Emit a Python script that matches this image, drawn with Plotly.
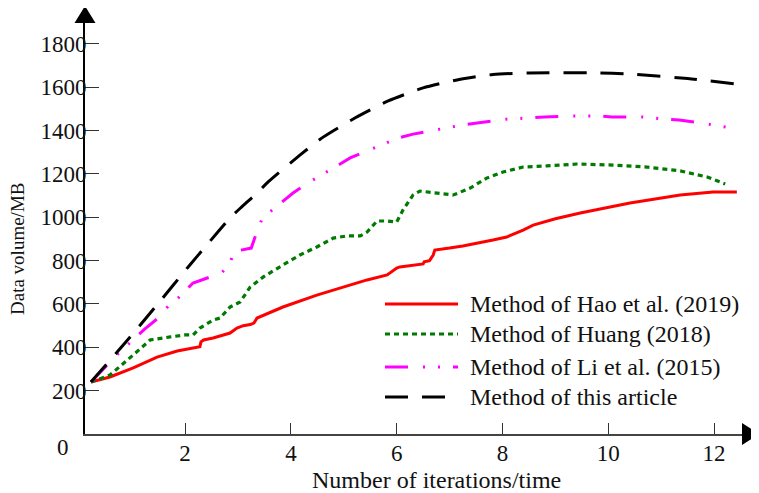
import plotly.graph_objects as go

# ---------------- data ----------------
series_names = ["Method of Hao et al. (2019)", "Method of Huang (2018)",
                "Method of Li et al. (2015)", "Method of this article"]

hao_x = [0.22, 0.58, 1.02, 1.47, 1.85, 2.1, 2.28, 2.30, 2.35, 2.53, 2.85, 2.98, 3.1, 3.23, 3.30,
         3.36, 3.85, 4.49, 5.12, 5.44, 5.82, 6.0, 6.06, 6.5, 6.52, 6.62, 6.69, 6.72, 7.0, 7.25,
         7.82, 8.08, 8.39, 8.58, 9.0, 9.47, 10.41, 11.36, 11.98, 12.43]
hao_y = [240, 263, 305, 355, 383, 395, 403, 425, 434, 443, 466, 489, 500, 505, 512,
         535, 586, 641, 688, 711, 734, 766, 771, 785, 795, 800, 826, 849, 858, 868,
         895, 909, 941, 964, 993, 1020, 1066, 1103, 1117, 1117]

huang_x = [0.22, 0.58, 1.02, 1.34, 1.72, 2.0, 2.15, 2.28, 2.53, 2.66, 2.85, 3.04, 3.23, 3.48,
           3.85, 4.17, 4.49, 4.80, 5.06, 5.31, 5.44, 5.63, 5.82, 6.0, 6.12, 6.31, 6.44, 6.76,
           7.07, 7.39, 7.7, 8.01, 8.39, 8.84, 9.41, 10.09, 10.73, 11.36, 11.87, 12.21]
huang_y = [240, 272, 365, 434, 448, 457, 457, 489, 526, 535, 586, 609, 678, 725,
           780, 826, 863, 904, 914, 914, 932, 983, 983, 978, 1034, 1103, 1121, 1112,
           1103, 1135, 1181, 1209, 1232, 1237, 1246, 1241, 1232, 1214, 1186, 1154]

li_x = [0.22, 0.45, 0.71, 1.24, 1.47, 1.65, 1.87, 2.15, 2.41, 2.69, 2.85, 2.9, 2.98, 3.13,
        3.25, 3.36, 3.45, 3.51, 3.83, 4.04, 4.29, 4.55, 4.87, 5.12, 5.38, 5.65, 6.03, 6.31,
        6.57, 6.82, 7.24, 7.52, 7.8, 8.08, 8.5, 8.79, 9.36, 9.79, 10.07, 10.64, 11.05, 11.34,
        11.62, 11.9, 12.34]
li_y = [240, 300, 365, 485, 531, 582, 628, 697, 720, 743, 790, 825, 845, 854,
        858, 935, 990, 1006, 1071, 1112, 1154, 1190, 1237, 1274, 1301, 1329, 1366, 1384,
        1394, 1407, 1426, 1435, 1444, 1453, 1458, 1463, 1468, 1468, 1463, 1463, 1453, 1449,
        1440, 1430, 1412]

ours_x = [0.22, 0.9, 1.5, 2.09, 2.41, 2.85, 3.07, 3.36, 3.57, 4.17, 4.61, 5.21, 5.84, 6.5,
          7.14, 7.82, 8.5, 9.65, 10.5, 11.5, 12.43]
ours_y = [240, 430, 605, 780, 872, 997, 1048, 1112, 1163, 1287, 1370, 1458, 1537, 1597,
          1634, 1659, 1666, 1667, 1660, 1640, 1615]

x_tick_vals = [2, 4, 6, 8, 10, 12]
y_tick_vals = [200, 400, 600, 800, 1000, 1200, 1400, 1600, 1800]

# ---------------- styles ----------------
colors = ["#ff0000", "#007a00", "#ff00ff", "#000000"]
dashes = ["solid", "5px,4px", "23px,15px,2px,13px,2px,13px", "23px,14px"]
widths = [3, 3.2, 3, 3]

OFF = 8  # page body margin
W, H = 759 - OFF, 493 - OFF
PL, PR, PT, PB = 85, 752, 15, 434          # plot area in page pixels
L, R, T, B = PL - OFF, W - (PR - OFF), PT - OFF, H - (PB - OFF)
PW, PH = PR - PL, PB - PT
FONT = "Liberation Serif"


def px(xp):
    return (xp - PL) / PW


def py(yp):
    return (PB - yp) / PH


fig = go.Figure()
data = [(hao_x, hao_y), (huang_x, huang_y), (li_x, li_y), (ours_x, ours_y)]
for i, (xs, ys) in enumerate(data):
    fig.add_trace(go.Scatter(
        x=xs, y=ys, mode="lines", name=series_names[i], showlegend=False,
        line=dict(color=colors[i], width=widths[i], dash=dashes[i],
                  shape="spline" if i == 3 else "linear", smoothing=0.6),
        hoverinfo="skip"))

shapes = []
annotations = []
# custom legend
legend_rows = [304, 334, 367, 397]
for i, name in enumerate(series_names):
    yy = py(legend_rows[i])
    shapes.append(dict(type="line", xref="paper", yref="paper",
                       x0=px(385), x1=px(458), y0=yy, y1=yy,
                       line=dict(color=colors[i], width=widths[i], dash=dashes[i])))
    annotations.append(dict(x=px(468), y=yy, xref="paper", yref="paper",
                            text=name, showarrow=False, xanchor="left", yanchor="middle",
                            font=dict(family=FONT, size=24, color="#111")))

# axis arrows
shapes.append(dict(type="path", xref="paper", yref="paper",
                   path=f"M {px(85)} {py(6)} L {px(74.5)} {py(23)} L {px(95.5)} {py(23)} Z",
                   fillcolor="black", line=dict(color="black", width=0)))
shapes.append(dict(type="path", xref="paper", yref="paper",
                   path=f"M {px(759)} {py(434)} L {px(742)} {py(423)} L {px(742)} {py(445)} Z",
                   fillcolor="black", line=dict(color="black", width=0)))

# origin label and titles
annotations.append(dict(x=px(63), y=py(447), xref="paper", yref="paper", text="0",
                        showarrow=False, xanchor="center", yanchor="middle",
                        font=dict(family=FONT, size=23, color="#111")))
annotations.append(dict(x=px(436), y=py(480), xref="paper", yref="paper",
                        text="Number of iterations/time", showarrow=False,
                        xanchor="center", yanchor="middle",
                        font=dict(family=FONT, size=24, color="#111")))
annotations.append(dict(x=px(17), y=py(249), xref="paper", yref="paper",
                        text="Data volume/MB", showarrow=False, textangle=-90,
                        xanchor="center", yanchor="middle",
                        font=dict(family=FONT, size=19, color="#111")))

fig.update_layout(
    width=W, height=H,
    margin=dict(l=L, r=R, t=T, b=B, pad=0),
    paper_bgcolor="white", plot_bgcolor="white",
    font=dict(family=FONT, color="#111"),
    shapes=shapes, annotations=annotations,
    showlegend=False,
    xaxis=dict(range=[(PL - 79.3) / 52.9, (PR - 79.3) / 52.9],
               tickvals=x_tick_vals, ticktext=[str(v) for v in x_tick_vals],
               ticks="inside", ticklen=11, tickwidth=1.2, tickcolor="#333",
               showline=True, linecolor="#444", linewidth=1.6,
               showgrid=False, zeroline=False, ticklabelstandoff=-2,
               tickfont=dict(family=FONT, size=23, color="#111")),
    yaxis=dict(range=[0, PH / 0.2167],
               tickvals=y_tick_vals, ticktext=[str(v) for v in y_tick_vals],
               ticks="inside", ticklen=14, tickwidth=1.2, tickcolor="#333",
               showline=True, linecolor="black", linewidth=1.6,
               showgrid=False, zeroline=False, ticklabelstandoff=-8,
               tickfont=dict(family=FONT, size=23, color="#111")),
)

fig.write_html("out.html")
